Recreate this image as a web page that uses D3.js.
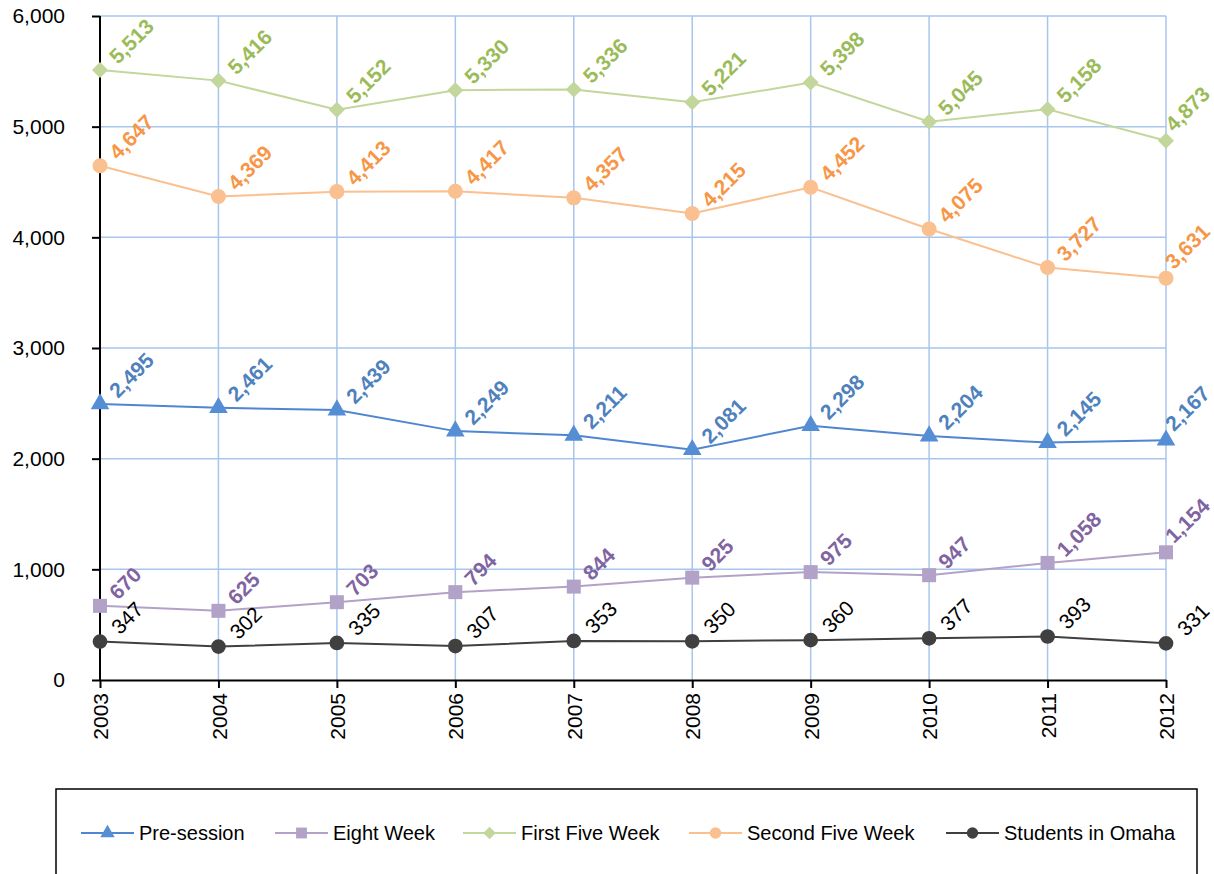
<!DOCTYPE html>
<html>
<head>
<meta charset="utf-8">
<script src="https://cdn.jsdelivr.net/npm/d3@7"></script>
<style>
  body { margin: 0; background: #fff; }
  text { font-family: "Liberation Sans", Arial, sans-serif; }
</style>
</head>
<body>
<svg id="chart" width="1214" height="874"></svg>
<script>
// chart data
var years = ["2003", "2004", "2005", "2006", "2007", "2008", "2009", "2010", "2011", "2012"];
var preSession = [2495, 2461, 2439, 2249, 2211, 2081, 2298, 2204, 2145, 2167];
var eightWeek = [670, 625, 703, 794, 844, 925, 975, 947, 1058, 1154];
var firstFive = [5513, 5416, 5152, 5330, 5336, 5221, 5398, 5045, 5158, 4873];
var secondFive = [4647, 4369, 4413, 4417, 4357, 4215, 4452, 4075, 3727, 3631];
var omaha = [347, 302, 335, 307, 353, 350, 360, 377, 393, 331];
var yTicks = [0, 1000, 2000, 3000, 4000, 5000, 6000];

// square diamond (d3's own diamond is tall and thin)
var diamond = {
  draw: function(context, size) {
    var r = Math.sqrt(size / 2);
    context.moveTo(0, -r);
    context.lineTo(r, 0);
    context.lineTo(0, r);
    context.lineTo(-r, 0);
    context.closePath();
  }
};

var series = [
  { name: "Pre-session", values: preSession, line: "#4f86cf", marker: "#558ed5", label: "#4f81bd", shape: d3.symbolTriangle, size: 150, bold: true },
  { name: "Eight Week", values: eightWeek, line: "#b3a2c7", marker: "#b3a2c7", label: "#8064a2", shape: d3.symbolSquare, size: 196, bold: true },
  { name: "First Five Week", values: firstFive, line: "#c3d69b", marker: "#c3d69b", label: "#9bbb59", shape: diamond, size: 128, bold: true },
  { name: "Second Five Week", values: secondFive, line: "#fac090", marker: "#fac090", label: "#f79646", shape: d3.symbolCircle, size: 177, bold: true },
  { name: "Students in Omaha", values: omaha, line: "#404040", marker: "#404040", label: "#000000", shape: d3.symbolCircle, size: 170, bold: false }
];

var svg = d3.select("#chart");
var plotLeft = 100, plotRight = 1166, plotTop = 16, plotBottom = 680;

var x = d3.scalePoint().domain(years).range([plotLeft, plotRight]);
var y = d3.scaleLinear().domain([0, 6000]).range([plotBottom, plotTop]);
var fmt = d3.format(",");

// grid
var grid = svg.append("g");
grid.selectAll(".hg")
  .data(yTicks.filter(function(d) { return d > 0; }))
  .enter().append("line")
  .attr("x1", plotLeft).attr("x2", plotRight)
  .attr("y1", function(d) { return y(d); })
  .attr("y2", function(d) { return y(d); })
  .style("stroke", "#a9c5ec").style("stroke-width", 1.5);
grid.selectAll(".vg")
  .data(years.slice(1))
  .enter().append("line")
  .attr("x1", function(d) { return x(d); })
  .attr("x2", function(d) { return x(d); })
  .attr("y1", plotTop).attr("y2", plotBottom)
  .style("stroke", "#a9c5ec").style("stroke-width", 1.5);

// axes
var yAxis = svg.append("g")
  .attr("transform", "translate(" + plotLeft + ",0)")
  .call(d3.axisLeft(y).tickValues(yTicks).tickSize(8).tickPadding(27).tickFormat(fmt));
var xAxis = svg.append("g")
  .attr("transform", "translate(0," + plotBottom + ")")
  .call(d3.axisBottom(x).tickSize(8).tickSizeOuter(0));

[yAxis, xAxis].forEach(function(a) {
  a.select(".domain").style("stroke", "#000").style("stroke-width", 2);
  a.selectAll(".tick line").style("stroke", "#000").style("stroke-width", 2);
  a.selectAll("text").style("font-size", "21px").style("fill", "#000")
    .style("font-family", "'Liberation Sans', Arial, sans-serif");
});
yAxis.select(".domain").attr("d", "M0," + plotTop + "V" + plotBottom);
xAxis.selectAll(".tick text")
  .attr("transform", "rotate(-90)")
  .attr("x", -13).attr("y", 0).attr("dy", "0.36em")
  .style("text-anchor", "end");

// lines, markers, labels
var line = d3.line()
  .x(function(d, i) { return x(years[i]); })
  .y(function(d) { return y(d); });

series.forEach(function(s) {
  var g = svg.append("g");
  g.append("path")
    .datum(s.values)
    .attr("d", line)
    .style("fill", "none")
    .style("stroke", s.line)
    .style("stroke-width", 2);

  g.selectAll("path.mk")
    .data(s.values)
    .enter().append("path")
    .attr("class", "mk")
    .attr("d", d3.symbol().type(s.shape).size(s.size))
    .attr("transform", function(d, i) { return "translate(" + x(years[i]) + "," + y(d) + ")"; })
    .style("fill", s.marker);

  g.selectAll("text")
    .data(s.values)
    .enter().append("text")
    .attr("transform", function(d, i) {
      var px = x(years[i]), py = y(d);
      var dx = 18, dy = -5;
      if (!s.bold) { dx = 20; dy = -6; }
      else if (i == years.length - 1) { dx = 8; dy = -8; }  // pulled in at the right edge
      return "translate(" + (px + dx) + "," + (py + dy) + ") rotate(-45)";
    })
    .style("font-size", "21px")
    .style("font-weight", s.bold ? "bold" : "normal")
    .style("fill", s.label)
    .text(function(d) { return fmt(d); });
});

// legend
var legend = svg.append("g");
legend.append("rect")
  .attr("x", 56).attr("y", 789)
  .attr("width", 1141).attr("height", 110)
  .style("fill", "#fff").style("stroke", "#000").style("stroke-width", 1.5);

var legendX = [81, 275, 463, 689, 946];
var ly = 833;
series.forEach(function(s, i) {
  var lx = legendX[i];
  legend.append("line")
    .attr("x1", lx).attr("x2", lx + 53)
    .attr("y1", ly).attr("y2", ly)
    .style("stroke", s.line).style("stroke-width", 2);
  legend.append("path")
    .attr("d", d3.symbol().type(s.shape).size(s.size * 0.6))
    .attr("transform", "translate(" + (lx + 26.5) + "," + ly + ")")
    .style("fill", s.marker);
  legend.append("text")
    .attr("x", lx + 58).attr("y", ly).attr("dy", "0.36em")
    .style("font-size", "20px").style("fill", "#000")
    .text(s.name);
});
</script>
</body>
</html>
